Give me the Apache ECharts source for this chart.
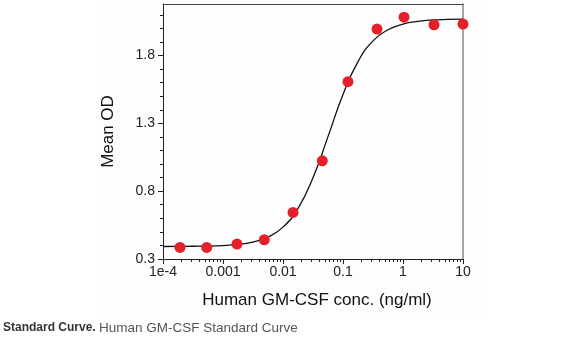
<!DOCTYPE html>
<html><head><meta charset="utf-8">
<script src="https://cdn.jsdelivr.net/npm/echarts@6/dist/echarts.min.js"></script>
<style>html,body{margin:0;padding:0;background:#fff}#c{width:572px;height:346px}</style>
</head><body><div id="c"></div>
<script>
// Measured points (concentration ng/ml, mean OD)
const pointX = [0.000192, 0.000535, 0.00171, 0.00488, 0.0147, 0.0452, 0.121, 0.369, 1.04, 3.29, 10];
const pointY = [0.385, 0.385, 0.41, 0.442, 0.643, 1.024, 1.607, 1.995, 2.083, 2.027, 2.032];
// Fitted curve
const curveX = [0.0001, 0.000178, 0.000316, 0.000562, 0.001, 0.00178, 0.00316, 0.00562, 0.01, 0.0178, 0.0316, 0.0562, 0.1, 0.178, 0.316, 0.562, 1, 1.78, 3.16, 5.62, 10];
const curveY = [0.392, 0.393, 0.394, 0.395, 0.399, 0.408, 0.425, 0.462, 0.535, 0.673, 0.899, 1.202, 1.513, 1.755, 1.908, 1.990, 2.032, 2.052, 2.062, 2.066, 2.068];
// Axis ticks
const xMajor = [0.0001, 0.001, 0.01, 0.1, 1, 10];
const xLabels = ['1e-4', '0.001', '0.01', '0.1', '1', '10'];
const xMinor = [0.0002,0.0003,0.0004,0.0005,0.0006,0.0007,0.0008,0.0009,
  0.002,0.003,0.004,0.005,0.006,0.007,0.008,0.009,
  0.02,0.03,0.04,0.05,0.06,0.07,0.08,0.09,
  0.2,0.3,0.4,0.5,0.6,0.7,0.8,0.9,
  2,3,4,5,6,7,8,9];
const yMajor = [0.3, 0.8, 1.3, 1.8];
const yMinor = [0.4,0.5,0.6,0.7,0.9,1.0,1.1,1.2,1.4,1.5,1.6,1.7,1.9,2.0,2.1];
const yMin = 0.3, yMax = 2.18, xMin = 0.0001, xMax = 10;
const xTitle = 'Human GM-CSF conc. (ng/ml)';
const yTitle = 'Mean OD';

const font = 'Liberation Sans, Arial, sans-serif';
const chart = echarts.init(document.getElementById('c'), null, {renderer: 'canvas'});
const labelOf = v => { for (let i = 0; i < xMajor.length; i++) { if (Math.abs(Math.log10(v) - Math.log10(xMajor[i])) < 1e-6) return xLabels[i]; } return ''; };

const baseX = {type: 'log', logBase: 10, min: xMin, max: xMax, splitLine: {show: false}};
const baseY = {type: 'value', min: yMin, max: yMax, splitLine: {show: false}};
chart.setOption({
  animation: false,
  backgroundColor: '#fff',
  graphic: [
    {type: 'rect', z: -10, shape: {x: 97, y: 0, width: 384, height: 319}, style: {fill: '#fcfdfc'}},
    {type: 'text', left: 3, top: 321, style: {
      rich: {b: {fontFamily: font, fontWeight: 'bold', fontSize: 12, fill: '#333'}, n: {fontFamily: font, fontSize: 13.5, fill: '#555'}},
      text: '{b|Standard Curve.} {n|Human GM-CSF Standard Curve}'
    }}
  ],
  grid: {left: 163, right: 109, top: 4, bottom: 87, containLabel: false},
  xAxis: [
    Object.assign({}, baseX, {
      position: 'bottom',
      axisLine: {show: true, lineStyle: {color: '#222', width: 1}},
      axisTick: {show: true, length: 5, lineStyle: {color: '#222'}, customValues: xMajor},
      axisLabel: {show: true, customValues: xMajor, formatter: v => labelOf(v), fontFamily: font, fontSize: 14, color: '#222', margin: 6},
      name: xTitle, nameLocation: 'middle', nameGap: 33,
      nameTextStyle: {fontFamily: font, fontSize: 17, color: '#111', padding: [0, 0, 0, 8]}
    }),
    Object.assign({}, baseX, {
      position: 'bottom',
      axisLine: {show: false},
      axisTick: {show: true, length: 3, lineStyle: {color: '#222'}, customValues: xMinor},
      axisLabel: {show: false}
    }),
    Object.assign({}, baseX, {
      position: 'top',
      axisLine: {show: true, lineStyle: {color: '#444', width: 1}},
      axisTick: {show: false}, axisLabel: {show: false}
    })
  ],
  yAxis: [
    Object.assign({}, baseY, {
      position: 'left',
      axisLine: {show: true, lineStyle: {color: '#222', width: 1}},
      axisTick: {show: true, length: 5, lineStyle: {color: '#222'}, customValues: yMajor},
      axisLabel: {show: true, customValues: yMajor, formatter: v => v.toFixed(1), fontFamily: font, fontSize: 14, color: '#222', margin: 8},
      name: yTitle, nameLocation: 'middle', nameGap: 46,
      nameTextStyle: {fontFamily: font, fontSize: 17, color: '#111'}
    }),
    Object.assign({}, baseY, {
      position: 'left',
      axisLine: {show: false},
      axisTick: {show: true, length: 3, lineStyle: {color: '#222'}, customValues: yMinor},
      axisLabel: {show: false}
    }),
    Object.assign({}, baseY, {
      position: 'right',
      axisLine: {show: true, lineStyle: {color: '#888', width: 1.5}},
      axisTick: {show: false}, axisLabel: {show: false}
    })
  ],
  series: [
    {type: 'line', xAxisIndex: 0, yAxisIndex: 0, smooth: true, symbol: 'none',
     lineStyle: {color: '#111', width: 1.3}, data: curveX.map((x, i) => [x, curveY[i]]), z: 2},
    {type: 'scatter', xAxisIndex: 0, yAxisIndex: 0, symbolSize: 11,
     itemStyle: {color: '#e6202a', opacity: 1}, data: pointX.map((x, i) => [x, pointY[i]]), z: 3}
  ]
});
</script></body></html>
